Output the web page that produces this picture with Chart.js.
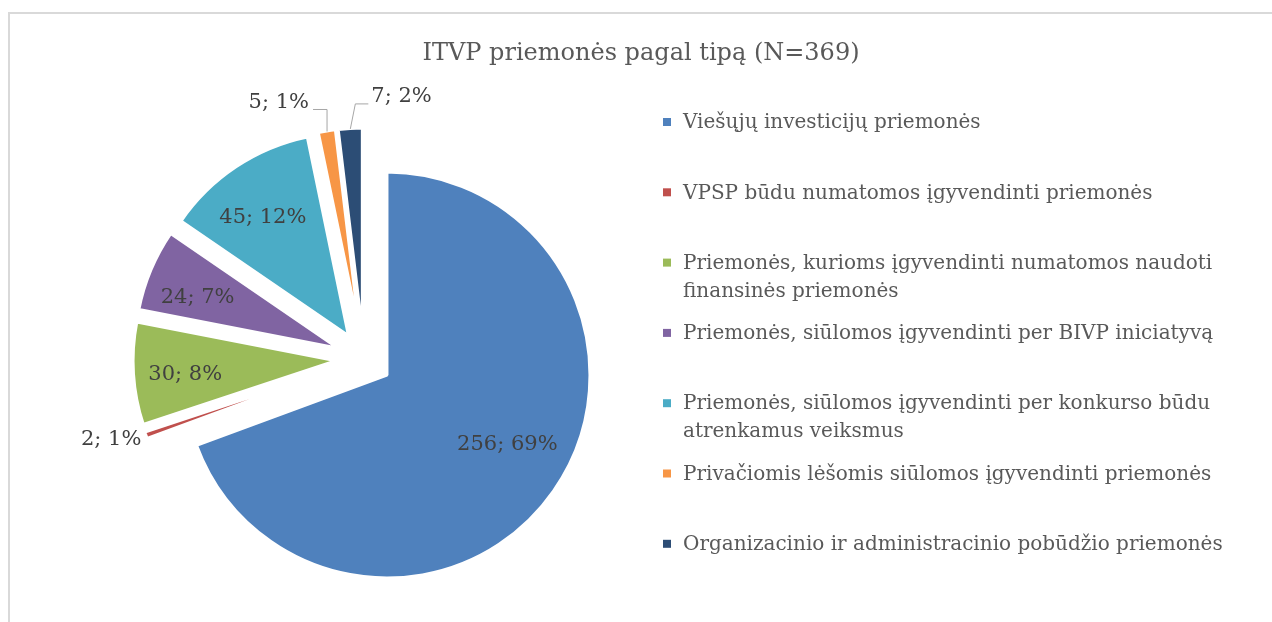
<!DOCTYPE html>
<html>
<head>
<meta charset="utf-8">
<script src="https://cdn.jsdelivr.net/npm/chart.js@4.4.1/dist/chart.umd.min.js"></script>
<style>
  html, body { margin: 0; padding: 0; background: #fff; overflow: hidden; }
  #frame { position: absolute; left: 8px; top: 12px; width: 1300px; height: 700px; border: 2px solid #d9d9d9; box-sizing: border-box; }
  #myChart { position: absolute; left: 0; top: 0; }
</style>
</head>
<body>
<div id="frame"></div>
<canvas id="myChart" width="1272" height="622"></canvas>
<script>
// data
const chartTitle = 'ITVP priemonės pagal tipą (N=369)';
const categories = [
  ['Viešųjų investicijų priemonės'],
  ['VPSP būdu numatomos įgyvendinti priemonės'],
  ['Priemonės, kurioms įgyvendinti numatomos naudoti', 'finansinės priemonės'],
  ['Priemonės, siūlomos įgyvendinti per BIVP iniciatyvą'],
  ['Priemonės, siūlomos įgyvendinti per konkurso būdu', 'atrenkamus veiksmus'],
  ['Privačiomis lėšomis siūlomos įgyvendinti priemonės'],
  ['Organizacinio ir administracinio pobūdžio priemonės']
];
const counts = [256, 2, 30, 24, 45, 5, 7];
const percents = [69, 1, 8, 7, 12, 1, 2];
const colors = ['#4F81BD', '#C0504D', '#9BBB59', '#8064A2', '#4BACC6', '#F79646', '#2C4D75'];

// styles
const FONT = '"DejaVu Serif", "Liberation Serif", serif';
const explode = 28;     // px every slice is pulled out of the centre
const pieRadius = 203;
// where each data label goes: inside at r * radius, or outside with a leader line
const labelPlace = [
  { r: 0.68, dx: 8, dy: -9 },
  { side: 'left', gap: 6, dy: 5 },
  { r: 0.74, dx: -2, dy: 4 },
  { r: 0.74, dx: -3, dy: 7 },
  { r: 0.74, dx: -3, dy: 6 },
  { side: 'left', up: 23, run: 14, lift: 7 },
  { side: 'right', up: 26, run: 13, lift: 7, lean: 5 }
];

// pull every slice out along its middle angle, same distance and same radius (Excel style explosion)
const explodeSlices = {
  id: 'explodeSlices',
  afterDatasetsUpdate(chart) {
    chart.getDatasetMeta(0).data.forEach(el => {
      const mid = (el.startAngle + el.endAngle) / 2;
      el.x += Math.cos(mid) * explode;
      el.y += Math.sin(mid) * explode;
    });
  }
};

// title + legend drawn by hand (wrapped lines, wide spacing)
const chrome = {
  id: 'chrome',
  afterDraw(chart) {
    const ctx = chart.ctx;
    ctx.save();
    ctx.fillStyle = '#595959';
    ctx.font = '24px ' + FONT;
    ctx.textAlign = 'center';
    ctx.textBaseline = 'alphabetic';
    ctx.fillText(chartTitle, 641, 60);

    ctx.font = '20px ' + FONT;
    ctx.textAlign = 'left';
    ctx.textBaseline = 'middle';
    categories.forEach((lines, i) => {
      const y = 122 + i * 70.3;
      ctx.fillStyle = colors[i];
      ctx.fillRect(663, y - 4, 8, 8);
      ctx.fillStyle = '#595959';
      lines.forEach((t, k) => ctx.fillText(t, 683, y + 1 + k * 28));
    });
    ctx.restore();
  }
};

// "value; percent" labels
const sliceLabels = {
  id: 'sliceLabels',
  afterDatasetsDraw(chart) {
    const ctx = chart.ctx;
    const arcs = chart.getDatasetMeta(0).data;
    ctx.save();
    ctx.font = '21px ' + FONT;
    ctx.fillStyle = '#404040';
    ctx.strokeStyle = '#a6a6a6';
    ctx.lineWidth = 1;
    ctx.textBaseline = 'middle';
    arcs.forEach((el, i) => {
      const text = counts[i] + '; ' + percents[i] + '%';
      const p = labelPlace[i];
      const mid = (el.startAngle + el.endAngle) / 2;
      const R = el.outerRadius - 1.5;
      if (p.r) {
        ctx.textAlign = 'center';
        ctx.fillText(text, el.x + Math.cos(mid) * R * p.r + (p.dx || 0), el.y + Math.sin(mid) * R * p.r + (p.dy || 0));
        return;
      }
      const ox = el.x + Math.cos(mid) * R;
      const oy = el.y + Math.sin(mid) * R;
      if (!p.up) {
        ctx.textAlign = 'right';
        ctx.fillText(text, ox - p.gap, oy + p.dy);
        return;
      }
      const ex = ox + (p.lean || 0);
      const ey = oy - p.up;
      const tx = p.side === 'left' ? ex - p.run : ex + p.run;
      ctx.beginPath();
      ctx.moveTo(ox, oy - 1);
      ctx.lineTo(ex, ey);
      ctx.lineTo(tx, ey);
      ctx.stroke();
      ctx.textAlign = p.side === 'left' ? 'right' : 'left';
      ctx.fillText(text, p.side === 'left' ? tx - 4 : tx + 3, ey - p.lift);
    });
    ctx.restore();
  }
};

const config = {
  type: 'pie',
  data: {
    labels: categories.map(c => c.join(' ')),
    datasets: [{
      data: counts,
      backgroundColor: colors,
      borderColor: '#ffffff',
      borderWidth: 3,
      hoverOffset: 0
    }]
  },
  options: {
    responsive: false,
    animation: false,
    devicePixelRatio: 1,
    radius: pieRadius,
    layout: { padding: { left: 0, right: 544, top: 96, bottom: 0 } },
    plugins: {
      legend: { display: false },
      title: { display: false },
      tooltip: { enabled: false }
    }
  },
  plugins: [explodeSlices, sliceLabels, chrome]
};

const myChart = new Chart(document.getElementById('myChart'), config);
</script>
</body>
</html>
